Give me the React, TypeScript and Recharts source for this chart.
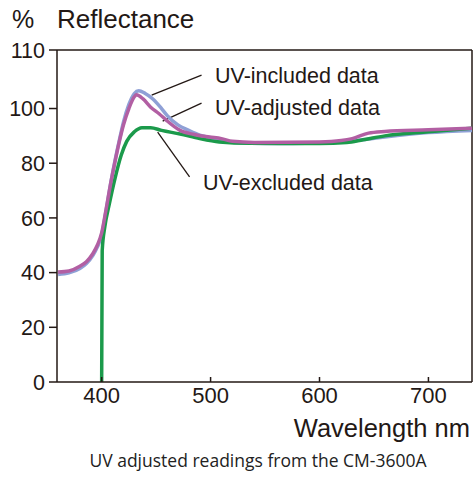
import { LineChart, Line, XAxis, YAxis, ReferenceLine } from 'recharts';

// UV-included data
const includedNm = [360, 370, 380, 386, 392, 396, 400, 404, 408, 412, 416, 420, 425, 430, 434, 440, 447, 455, 460, 470, 480, 490, 500, 510, 525, 550, 600, 620, 640, 660, 700, 740];
const includedVal = [39.3, 39.9, 41.5, 43.3, 46.3, 49.3, 53.8, 62.5, 72, 80.5, 88, 95, 101.5, 105.5, 106.5, 105.5, 103.5, 100, 97.5, 94, 92, 90.3, 89.3, 88.3, 87.5, 87.2, 87.4, 87.8, 88.6, 89.6, 91.2, 92];

// UV-adjusted data
const adjustedNm = [360, 370, 380, 386, 392, 396, 400, 404, 408, 412, 416, 420, 425, 430, 432, 438, 445, 453, 460, 472, 485, 499, 510, 520, 540, 600, 620, 630, 645, 660, 700, 740];
const adjustedVal = [40.2, 40.6, 42.3, 44, 47, 50, 54.5, 63, 72, 80, 87.5, 94, 100, 104.3, 105, 103.5, 100.5, 98, 95.5, 92, 90.5, 89.6, 89, 88, 87.6, 87.8, 88.3, 89, 91, 91.6, 92.2, 92.8];

// UV-excluded data
const excludedNm = [400, 400.5, 403, 407, 412, 418, 423, 430, 437, 445, 455, 472, 490, 508, 536, 600, 625, 640, 660, 700, 740];
const excludedVal = [0, 48, 57, 65, 74, 83, 88, 91.5, 93, 93, 92, 90.7, 89, 87.8, 87.3, 87.2, 87.6, 88.6, 90, 91.5, 92.8];

const xTicks = [400, 500, 600, 700];
const yTicks = [0, 20, 40, 60, 80, 100, 121.4];
const yTickLabels = ['0', '20', '40', '60', '80', '100', '110'];

const toRows = (nm: number[], vals: number[]) => nm.map((n, i) => ({ nm: n, v: vals[i] }));
const included = toRows(includedNm, includedVal);
const adjusted = toRows(adjustedNm, adjustedVal);
const excluded = toRows(excludedNm, excludedVal);

const INK = '#231815';
const FONT = '"Liberation Sans", Arial, sans-serif';

const XTick = (props: any) => {
  const { x, y, payload } = props;
  return (
    <g>
      <line x1={x} x2={x} y1={y - 5} y2={y} stroke={INK} strokeWidth={1.5} />
      <text x={x} y={y + 21} textAnchor="middle" fontSize={22} fontFamily={FONT} fill={INK}>
        {payload.value}
      </text>
    </g>
  );
};

const notes = [
  { text: 'UV-included data', from: [445.9, 104.9], to: [491.7, 112.2], tx: 215, ty: 83 },
  { text: 'UV-adjusted data', from: [456, 95.4], to: [491.7, 102], tx: 215, ty: 115 },
  { text: 'UV-excluded data', from: [451.4, 91.4], to: [480.7, 75], tx: 203, ty: 190 },
];

export default function App() {
  return (
    <div style={{ position: 'absolute', left: 0, top: 0, width: 473, height: 479, background: '#fff' }}>
      <LineChart width={473} height={479} margin={{ top: 50, right: 1, bottom: 67, left: 7 }}>
        <XAxis
          type="number"
          dataKey="nm"
          domain={[359, 740]}
          ticks={xTicks}
          allowDataOverflow
          height={30}
          tickSize={0}
          tickMargin={0}
          tickLine={false}
          tick={<XTick />}
          axisLine={{ stroke: INK, strokeWidth: 1.5 }}
        />
        <YAxis
          type="number"
          dataKey="v"
          domain={[0, 121.4]}
          ticks={yTicks}
          allowDataOverflow
          width={50}
          tickSize={8}
          tickMargin={4}
          tickFormatter={(v: number) => yTickLabels[yTicks.indexOf(v)] ?? ''}
          tick={{ fontSize: 21.5, fontFamily: FONT, fill: INK }}
          tickLine={{ stroke: INK, strokeWidth: 1.5 }}
          axisLine={{ stroke: INK, strokeWidth: 1.5 }}
        />
        <ReferenceLine y={121.4} stroke={INK} strokeWidth={1.5} ifOverflow="visible" />
        <ReferenceLine x={740} stroke={INK} strokeWidth={1.5} ifOverflow="visible" />
        {notes.map((n) => (
          <ReferenceLine
            key={n.text}
            segment={[{ x: n.from[0], y: n.from[1] }, { x: n.to[0], y: n.to[1] }]}
            stroke={INK}
            strokeWidth={1.3}
            ifOverflow="visible"
          />
        ))}
        <Line data={included} dataKey="v" type="monotone" stroke="#8fa0d6" strokeWidth={3.5} dot={false} isAnimationActive={false} />
        <Line data={excluded} dataKey="v" type="monotone" stroke="#1b9a4b" strokeWidth={3.5} dot={false} isAnimationActive={false} />
        <Line data={adjusted} dataKey="v" type="monotone" stroke="#b25fa3" strokeWidth={3.5} dot={false} isAnimationActive={false} />
      </LineChart>
      <svg width={473} height={479} style={{ position: 'absolute', left: 0, top: 0, pointerEvents: 'none' }}>
        <text x={12} y={28} fontSize={25} fontFamily={FONT} fill={INK}>%</text>
        <text x={57} y={28} fontSize={26} fontFamily={FONT} fill={INK}>Reflectance</text>
        {notes.map((n) => (
          <text key={n.text} x={n.tx} y={n.ty} fontSize={21.5} fontFamily={FONT} fill={INK}>{n.text}</text>
        ))}
        <text x={470} y={437} textAnchor="end" fontSize={25.5} fontFamily={FONT} fill={INK}>Wavelength nm</text>
        <text x={258} y={467} textAnchor="middle" fontSize={17.5} fontFamily='"Open Sans", sans-serif' fill="#222">
          UV adjusted readings from the CM-3600A
        </text>
      </svg>
    </div>
  );
}
